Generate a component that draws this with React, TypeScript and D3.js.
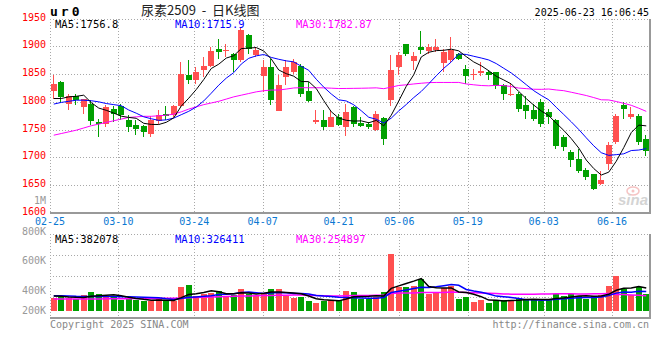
import React from 'react';
import * as d3 from 'd3';

// daily candles, 02-25 .. 06-23 (80 trading days)
const open = [1820,1836,1797,1810,1790,1796,1764,1761,1788,1792,1767,1758,1756,1743,1765,1779,1777,1793,1848,1839,1858,1865,1896,1892,1887,1875,1921,1884,1846,1863,1784,1845,1854,1865,1820,1764,1767,1755,1773,1755,1790,1762,1761,1749,1771,1804,1863,1904,1874,1899,1892,1894,1870,1875,1887,1860,1848,1852,1854,1854,1830,1812,1814,1794,1786,1800,1781,1768,1737,1710,1698,1677,1670,1652,1688,1728,1794,1772,1774,1734];
const high = [1848,1838,1814,1814,1806,1803,1770,1794,1792,1797,1776,1767,1758,1775,1786,1792,1794,1872,1875,1863,1881,1899,1914,1905,1888,1933,1922,1899,1875,1878,1848,1876,1878,1869,1836,1785,1785,1786,1779,1796,1793,1773,1764,1784,1772,1884,1890,1905,1890,1928,1904,1914,1896,1917,1888,1866,1860,1872,1857,1854,1832,1833,1818,1810,1797,1805,1788,1770,1740,1713,1716,1681,1670,1676,1728,1779,1800,1790,1778,1740];
const low = [1806,1798,1785,1794,1778,1758,1736,1754,1764,1767,1746,1740,1737,1737,1761,1767,1773,1791,1833,1833,1845,1863,1878,1881,1854,1872,1887,1881,1818,1794,1784,1830,1851,1809,1800,1761,1749,1754,1756,1739,1754,1754,1752,1747,1722,1792,1848,1883,1857,1887,1887,1890,1854,1872,1875,1833,1840,1847,1840,1824,1804,1810,1781,1770,1766,1754,1761,1716,1712,1683,1672,1660,1642,1650,1677,1725,1770,1770,1722,1702];
const close = [1833,1809,1810,1803,1805,1766,1760,1790,1778,1777,1755,1752,1745,1768,1776,1775,1792,1851,1839,1854,1865,1891,1890,1894,1875,1929,1896,1894,1863,1803,1830,1863,1872,1815,1802,1768,1754,1772,1758,1782,1761,1756,1755,1779,1733,1857,1884,1887,1883,1893,1899,1899,1890,1893,1878,1847,1851,1856,1848,1828,1814,1815,1788,1784,1770,1761,1773,1720,1719,1696,1676,1665,1644,1660,1722,1774,1788,1779,1728,1712];
const volume = [211,239,211,194,267,317,283,250,239,183,194,183,172,172,194,172,172,406,433,250,283,306,339,250,267,367,283,250,306,367,367,250,222,239,172,139,167,183,183,333,317,194,194,228,317,950,406,394,422,533,283,306,378,422,200,239,150,183,139,183,183,183,211,200,200,172,183,283,250,283,250,200,250,267,422,589,367,267,406,283].map((v) => v * 1000);

// moving averages as drawn on the chart
const ma5 = [1806,1806,1809,1810,1812,1798.6,1788.8,1784.8,1779.8,1774.2,1772,1770.4,1761.4,1759.4,1759.2,1763.2,1771.2,1792.4,1806.6,1822.2,1840.2,1860,1867.8,1878.8,1883,1895.8,1896.8,1897.7,1891.5,1877.1,1857.3,1850.7,1846.2,1836.6,1836.4,1824,1802.2,1782.2,1770.8,1766.8,1765.4,1765.8,1762.4,1766.6,1756.8,1776,1801.6,1828,1848.8,1880.8,1889.2,1892.2,1892.8,1894.8,1891.8,1881.4,1871.8,1865,1856,1846,1839.4,1832.2,1818.6,1805.8,1794.2,1783.6,1775.2,1761.7,1748.7,1733.9,1716.9,1695.3,1680,1668.3,1673.5,1693.1,1717.7,1744.7,1758.2,1756.8];
const ma10 = [1796,1799,1801,1803,1803,1802,1800,1797,1795,1793.1,1785.3,1779.6,1773.1,1769.6,1766.7,1767.6,1770.8,1776.9,1783,1790.7,1801.7,1815.6,1830.1,1842.7,1852.6,1868,1878.4,1882.8,1885.2,1880,1876.6,1873.8,1872,1864,1856.8,1840.7,1826.5,1814.2,1803.7,1801.6,1794.7,1784,1772.3,1768.7,1761.8,1770.7,1783.7,1795.2,1807.7,1818.8,1832.6,1846.9,1860.4,1871.8,1886.3,1885.3,1882,1878.9,1875.4,1868.9,1860.4,1852,1841.8,1830.9,1820.1,1811.5,1803.7,1790.2,1777.3,1764.1,1750.3,1735.3,1720.9,1708.5,1703.7,1705,1706.5,1712.4,1713.3,1715.9];
const ma30 = [1740,1743,1746,1749,1753,1757,1760,1763,1766,1769,1772,1773,1774,1774,1775,1776,1778,1782,1787,1791,1795,1798,1801,1805,1809,1812,1815,1818,1820,1821.3,1821.2,1823,1825,1825.5,1825.4,1825.4,1825.2,1824.6,1824,1824.1,1824.3,1824.5,1824.8,1825.2,1823.7,1826.5,1829.5,1830.7,1832.2,1833.5,1834.6,1834.9,1834.9,1834.9,1835,1832.2,1830.7,1829.4,1828.9,1829.8,1829.2,1827.6,1824.8,1823.8,1822.7,1822.5,1823.1,1821.4,1820.1,1817.3,1814.4,1811.4,1807.7,1803.7,1803.4,1800.6,1797.4,1793.8,1788.6,1782.9];
const vma5 = [250,245,235,228,224,246,254,262,271,254,230,210,194,181,183,179,176,223,275,287,309,336,322,286,289,306,301,283,295,315,315,308,302,289,250,204,188,180,169,201,237,242,244,253,250,377,419,459,498,541,408,388,384,384,318,309,278,239,182,179,168,174,180,192,195,193,193,208,218,234,250,253,247,250,278,346,379,382,410,382].map((v) => v * 1000);
const vma10 = [255,255,252,245,242,240,240,240,240,239,238,232,228,226,219,204,193,209,228,235,244,256,273,280,288,307,318,303,290,302,310,305,292,292,282,260,248,241,229,225,220,215,212,211,225,307,330,351,375,395,392,403,421,441,429,358,333,311,283,248,238,226,209,187,187,180,183,194,205,214,221,223,227,234,256,298,316,314,330,326].map((v) => v * 1000);
const vma30 = [198,198,199,199,200,201,202,203,204,205,206,207,208,209,210,212,214,217,221,225,229,233,237,241,244,248,251,254,257,259,264,264,265,266,263,257,253,251,249,254,258,259,259,261,265,291,299,299,298,308,308,308,309,315,312,308,304,301,296,290,284,281,281,280,281,282,282,286,288,286,284,284,286,287,291,277,274,268,264,255].map((v) => v * 1000);

// axis labels
const dateTicks = ['02-25','03-10','03-24','04-07','04-21','05-06','05-19','06-03','06-16'];
const dateTickIdx = [0, 9, 19, 28, 38, 46, 55, 65, 74];
const priceTicks = [1950, 1900, 1850, 1800, 1750, 1700, 1650, 1600];
const volTicks = [800000, 600000, 400000, 200000];

const UP = '#ff5050';
const DOWN = '#00a000';
const MONO = "'DejaVu Sans Mono', monospace";
const GRID = '#a8a8a8';

const App = () => {
  const n = close.length;
  const left = 50, right = 650;
  const pTop = 18.5, pBottom = 213;
  const vTop = 234, vBottom = 318;

  const x = d3.scaleBand<number>().domain(d3.range(n)).range([left, right]).paddingInner(0.2).paddingOuter(0.1);
  const xc = (i: number) => (x(i) as number) + x.bandwidth() / 2;
  const gx = d3.scaleLinear().domain([0, n - 1]).range([left, right]);
  const y = d3.scaleLinear().domain([1600, 1950]).range([pBottom, pTop]);
  const yv = d3.scaleLinear().domain([0, 1300000]).range([311, 233]);
  const yvLabel = d3.scaleLinear().domain([200000, 400000, 800000]).range([310, 290, 231]);

  const priceLine = d3.line<number>().x((_, i) => xc(i)).y((d) => y(d));
  const volLine = d3.line<number>().x((_, i) => xc(i)).y((d) => yv(d));

  const volGrid = d3.range(1, 4).map((k) => vTop + (k * (vBottom - vTop)) / 4);
  const bw = Math.round(x.bandwidth());

  return (
    <svg width={660} height={360} style={{ position: 'absolute', left: 0, top: 0, background: '#fff' }}>
      {/* header */}
      <text x={50} y={16} fontFamily={MONO} fontWeight="bold" fontSize={13} letterSpacing={3}>ur0</text>
      <text x={141} y={15} fontFamily="'Noto Sans CJK SC', sans-serif" fontSize={13} fill="#222" style={{ whiteSpace: 'pre' }}>尿素2509  -  日K线图</text>
      <text x={649} y={12} fontFamily={MONO} fontSize={10} textAnchor="end" dominantBaseline="central">2025-06-23 16:06:45</text>

      {/* grid */}
      <g stroke={GRID} strokeDasharray="1,2" shapeRendering="crispEdges">
        {priceTicks.slice(0, -1).map((t) => (
          <line key={t} x1={left} x2={right} y1={Math.round(y(t)) + 0.5} y2={Math.round(y(t)) + 0.5} />
        ))}
        {dateTickIdx.map((d) => (
          <line key={d} x1={Math.round(gx(d)) + 0.5} x2={Math.round(gx(d)) + 0.5} y1={pTop} y2={pBottom} />
        ))}
        {volGrid.concat([vTop]).map((v) => (
          <line key={v} x1={left} x2={right} y1={Math.round(v) + 0.5} y2={Math.round(v) + 0.5} />
        ))}
        {dateTickIdx.map((d) => (
          <line key={'v' + d} x1={Math.round(gx(d)) + 0.5} x2={Math.round(gx(d)) + 0.5} y1={vTop} y2={vBottom} />
        ))}
      </g>
      <g stroke="#999" strokeWidth={2} shapeRendering="crispEdges">
        <line x1={left} x2={right + 1} y1={pBottom} y2={pBottom} />
        <line x1={right} x2={right} y1={pTop} y2={pBottom} />
        <line x1={left} x2={right + 1} y1={vBottom} y2={vBottom} />
        <line x1={right} x2={right} y1={vTop} y2={vBottom} />
      </g>

      {/* axis labels */}
      {priceTicks.map((t) => (
        <text key={t} x={46} y={y(t) - 1.5} fontFamily={MONO} fontSize={10} fill="#f00" textAnchor="end" dominantBaseline="central">{t}</text>
      ))}
      <text x={46} y={200} fontFamily={MONO} fontSize={10} fill="#999" textAnchor="end" dominantBaseline="central">1M</text>
      {dateTicks.map((t, k) => (
        <text key={t} x={gx(dateTickIdx[k])} y={221.5} fontFamily={MONO} fontSize={10} fill="#0a78d2" textAnchor="middle" dominantBaseline="central">{t}</text>
      ))}
      {volTicks.map((t) => (
        <text key={t} x={46} y={yvLabel(t)} fontFamily={MONO} fontSize={10} fill="#999" textAnchor="end" dominantBaseline="central">{t / 1000 + 'K'}</text>
      ))}

      {/* watermark */}
      <g opacity={0.5}>
        <ellipse cx={633} cy={191} rx={6} ry={4} fill="none" stroke="#e88" strokeWidth={1.5} />
        <circle cx={633} cy={191} r={1.5} fill="#e88" />
        <text x={618} y={205} fontFamily="'Liberation Sans', sans-serif" fontStyle="italic" fontWeight="bold" fontSize={15} fill="#aaa">sina</text>
      </g>

      {/* candles */}
      <g shapeRendering="crispEdges">
        {close.map((c, i) => {
          const o = open[i];
          const col = c >= o ? UP : DOWN;
          const bx = Math.round(x(i) as number);
          const top = Math.round(y(Math.max(o, c)));
          const bot = Math.round(y(Math.min(o, c)));
          return (
            <g key={i} fill={col}>
              <rect x={bx + 2} width={1} y={Math.round(y(high[i]))} height={Math.max(1, Math.round(y(low[i])) - Math.round(y(high[i])))} />
              <rect x={bx} width={bw} y={top} height={Math.max(1, bot - top)} />
            </g>
          );
        })}
      </g>
      <g fill="none" strokeWidth={1}>
        <path d={priceLine(ma30) as string} stroke="#ff00ff" />
        <path d={priceLine(ma10) as string} stroke="#0000ff" />
        <path d={priceLine(ma5) as string} stroke="#000" />
      </g>

      {/* volume bars */}
      <g shapeRendering="crispEdges">
        {volume.map((v, i) => {
          const bx = Math.round(x(i) as number);
          const t = Math.round(yv(v));
          return <rect key={i} x={bx} width={bw} y={t} height={Math.round(yv(0)) - t} fill={close[i] >= open[i] ? UP : DOWN} />;
        })}
      </g>
      <g fill="none" strokeWidth={1.5}>
        <path d={volLine(vma30) as string} stroke="#ff00ff" />
        <path d={volLine(vma10) as string} stroke="#0000ff" />
        <path d={volLine(vma5) as string} stroke="#000" />
      </g>

      {/* MA legends */}
      <g fontFamily={MONO} fontSize={10.5} dominantBaseline="central">
        <text x={55} y={24} fill="#000">MA5:1756.8</text>
        <text x={175} y={24} fill="#0000ff">MA10:1715.9</text>
        <text x={296} y={24} fill="#ff00ff">MA30:1782.87</text>
        <text x={55} y={239} fill="#000">MA5:382078</text>
        <text x={175} y={239} fill="#0000ff">MA10:326411</text>
        <text x={296} y={239} fill="#ff00ff">MA30:254897</text>
      </g>

      {/* footer */}
      <text x={50} y={324} fontFamily={MONO} fontSize={10} fill="#888" dominantBaseline="central">Copyright 2025 SINA.COM</text>
      <text x={649} y={324} fontFamily={MONO} fontSize={10} fill="#888" textAnchor="end" dominantBaseline="central">http://finance.sina.com.cn</text>
    </svg>
  );
};

export default App;
